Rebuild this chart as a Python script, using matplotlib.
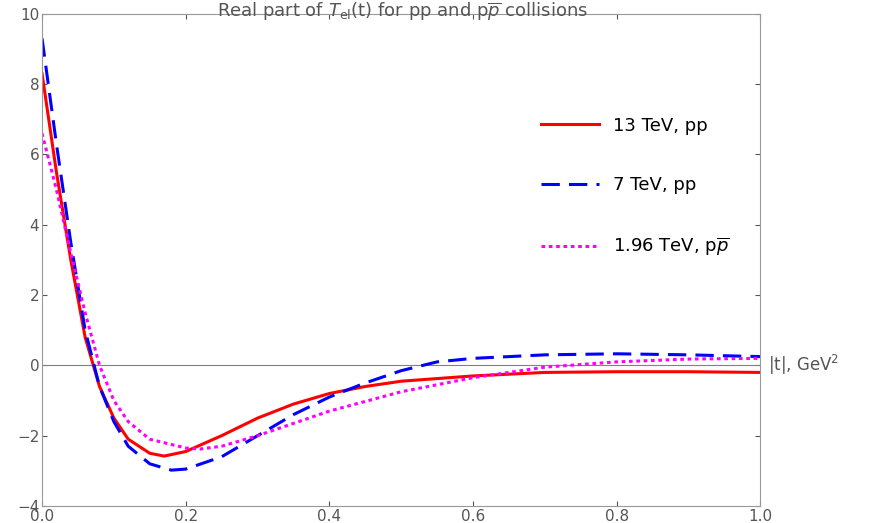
import numpy as np
import matplotlib.pyplot as plt

t_red = [0, 0.02, 0.04, 0.06, 0.08, 0.1, 0.12, 0.15, 0.17, 0.2, 0.25, 0.3, 0.35, 0.4, 0.45, 0.5, 0.6, 0.7, 0.8, 0.9, 1.0]
y_red = [8.3, 5.5, 3.0, 0.8, -0.6, -1.5, -2.1, -2.5, -2.58, -2.45, -2.0, -1.5, -1.1, -0.8, -0.6, -0.45, -0.3, -0.2, -0.18, -0.18, -0.2]
t_blue = [0, 0.02, 0.04, 0.06, 0.08, 0.1, 0.12, 0.15, 0.18, 0.2, 0.25, 0.3, 0.35, 0.4, 0.45, 0.5, 0.55, 0.6, 0.7, 0.8, 0.9, 1.0]
y_blue = [9.3, 6.3, 3.5, 1.0, -0.6, -1.6, -2.3, -2.8, -2.98, -2.95, -2.6, -2.0, -1.4, -0.9, -0.5, -0.15, 0.1, 0.2, 0.3, 0.33, 0.3, 0.25]
t_mag = [0, 0.02, 0.04, 0.06, 0.08, 0.1, 0.12, 0.15, 0.2, 0.22, 0.25, 0.3, 0.4, 0.5, 0.6, 0.7, 0.8, 0.9, 1.0]
y_mag = [6.6, 5.0, 3.2, 1.5, 0.0, -1.0, -1.6, -2.1, -2.35, -2.38, -2.3, -2.0, -1.3, -0.75, -0.35, -0.05, 0.1, 0.18, 0.2]

fig = plt.figure(figsize=(8.76, 5.23), dpi=100)
ax = fig.add_axes([0.048, 0.0325, 0.82, 0.941])
ax.axhline(0, color='gray', lw=0.8)
ax.plot(t_red, y_red, color='red', lw=2.2, label='13 TeV, pp')
ax.plot(t_blue, y_blue, color='blue', lw=2.2, ls=(0, (6, 3)), label='7 TeV, pp')
ax.plot(t_mag, y_mag, color='magenta', lw=2.2, ls=(0, (1.2, 1.2)), label=r'1.96 TeV, p$\overline{p}$')
ax.set_xlim(0, 1)
ax.set_ylim(-4, 10)
ax.set_xticks(np.arange(0, 1.01, 0.2))
ax.set_yticks(range(-4, 11, 2))
ax.set_yticklabels([str(v).replace('-', '\u2212') for v in range(-4, 11, 2)])
for s in ax.spines.values():
    s.set_color('#999999')
ax.tick_params(direction='in', colors='#555555', labelsize=11, top=True, right=True, pad=2)
ax.text(1.01, 0, r'|t|, GeV$^2$', transform=ax.get_yaxis_transform(), va='center', fontsize=12, color='#555555')
fig.text(0.46, 1 - 12 / 523, r'Real part of $T_{\rm el}$(t) for pp and p$\overline{p}$ collisions',
         ha='center', va='center', fontsize=13, color='#555555')
ax.legend(loc='upper right', bbox_to_anchor=(0.98, 0.824), frameon=False, fontsize=13, handlelength=3.2, labelspacing=2.3)
fig.savefig('out.png')
